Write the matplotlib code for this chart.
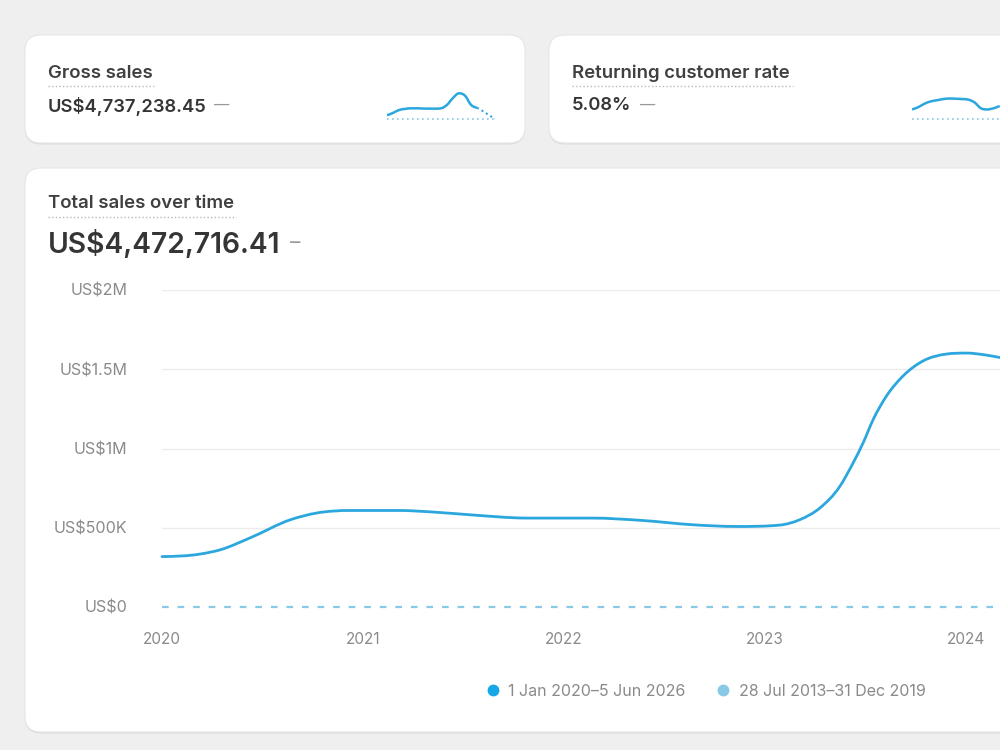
import numpy as np
import matplotlib.pyplot as plt
from matplotlib.patches import FancyBboxPatch, PathPatch
from matplotlib.path import Path
from matplotlib.lines import Line2D
from matplotlib.ticker import FuncFormatter

plt.rcParams["font.family"] = ["Inter", "DejaVu Sans"]

# total sales over time (fractional year, US$ millions)
years = [2020.0, 2020.19, 2020.29, 2020.44, 2020.64, 2020.77, 2020.94, 2021.18,
         2021.35, 2021.53, 2021.82, 2022.14, 2022.39, 2022.64, 2022.86, 2023.075,
         2023.174, 2023.274, 2023.373, 2023.439, 2023.489, 2023.539, 2023.605,
         2023.688, 2023.788, 2023.904, 2024.003, 2024.103, 2024.169]
sales = [0.318, 0.334, 0.361, 0.437, 0.551, 0.593, 0.609, 0.609,
         0.599, 0.582, 0.561, 0.561, 0.546, 0.519, 0.508, 0.517,
         0.551, 0.625, 0.761, 0.909, 1.036, 1.183, 1.331,
         1.458, 1.553, 1.596, 1.602, 1.589, 1.574]
# comparison period sums to zero on this range
compare_years = [2020.0, 2024.17]
compare_sales = [0.0, 0.0]

y_ticks = [0, 0.5, 1.0, 1.5, 2.0]
y_labels = ["US$0", "US$500K", "US$1M", "US$1.5M", "US$2M"]
x_ticks = [2020, 2021, 2022, 2023, 2024]
legend_labels = ["1 Jan 2020–5 Jun 2026", "28 Jul 2013–31 Dec 2019"]

# sparklines (arbitrary units, baseline = 0)
gross_spark = [3, 5, 7.5, 8.5, 9, 9, 8.8, 8.7, 8.7, 9, 12, 18, 22, 20, 12, 9.5]
gross_spark_tail = [9.5, 6.5, 3, 0]
gross_base = [0] * 19
rate_spark = [8, 10, 13, 15, 16, 17, 17.5, 17.3, 17, 16.5, 14, 9, 8, 9, 11]
rate_base = [0] * 15

blue = "#2ba7de"
light_blue = "#88c9e5"
dark = "#353535"
grey = "#8a8a8a"


def smooth_path(x, y):
    # smooth cubic through the points (Fritsch-Carlson limited tangents), as bezier segments
    x = np.asarray(x, float)
    y = np.asarray(y, float)
    h = np.diff(x)
    s = np.diff(y) / h
    m = np.zeros(len(x))
    for i in range(1, len(x) - 1):
        if s[i - 1] * s[i] <= 0:
            m[i] = 0.0
        else:
            p = (s[i - 1] * h[i] + s[i] * h[i - 1]) / (h[i - 1] + h[i])
            lim = 3 * min(abs(s[i - 1]), abs(s[i]))
            m[i] = np.sign(p) * min(abs(p), lim)
    m[0] = (3 * s[0] - m[1]) / 2 if len(x) > 2 else s[0]
    m[-1] = (3 * s[-1] - m[-2]) / 2 if len(x) > 2 else s[-1]
    verts = [(x[0], y[0])]
    codes = [Path.MOVETO]
    for i in range(len(x) - 1):
        d = h[i] / 3
        verts += [(x[i] + d, y[i] + m[i] * d), (x[i + 1] - d, y[i + 1] - m[i + 1] * d),
                  (x[i + 1], y[i + 1])]
        codes += [Path.CURVE4] * 3
    return Path(verts, codes)


fig = plt.figure(figsize=(10, 7.5), dpi=100, facecolor="#efefef")

# pixel-space background layer
bg = fig.add_axes([0, 0, 1, 1])
bg.set_xlim(0, 1000)
bg.set_ylim(750, 0)
bg.axis("off")


def card(x0, y0, x1, y1):
    shadow = FancyBboxPatch((x0, y0 + 1.5), x1 - x0, y1 - y0,
                            boxstyle="round,pad=0,rounding_size=16",
                            fc="#dcdcdc", ec="none")
    bg.add_patch(shadow)
    bg.add_patch(FancyBboxPatch((x0, y0), x1 - x0, y1 - y0,
                                boxstyle="round,pad=0,rounding_size=16",
                                fc="white", ec="#e6e6e6", lw=0.8))


card(25, 35, 525, 143)
card(549, 35, 1020, 143)
card(25, 168, 1020, 732)


def title(x, y, s, x_end):
    bg.text(x, y, s, fontsize=13.4, fontweight="semibold", color="#404040",
            va="center", ha="left")
    bg.plot([x, x_end], [y + 13, y + 13], color="#b8b8b8", lw=1,
            ls=(0, (1, 1.6)))


title(48, 73, "Gross sales", 154)
bg.text(48, 106, "US$4,737,238.45", fontsize=13.2, fontweight="semibold",
        color=dark, va="center")
bg.text(214, 105, "—", fontsize=11, color="#9a9a9a", va="center")

title(572, 73, "Returning customer rate", 793)
bg.text(572, 106, "5.08%", fontsize=13.2, fontweight="semibold",
        color=dark, va="center")
bg.text(640, 105, "—", fontsize=11, color="#9a9a9a", va="center")

title(48, 204, "Total sales over time", 236)
bg.text(48, 244, "US$4,472,716.41", fontsize=20.3, fontweight="semibold",
        color=dark, va="center")
bg.text(290, 243, "–", fontsize=15, color="#9a9a9a", va="center")

# sparklines
sp1 = fig.add_axes([387 / 1000, (750 - 121) / 750, 108 / 1000, 30 / 750])
sp1.add_patch(PathPatch(smooth_path(range(len(gross_spark)), gross_spark),
                        fc="none", ec=blue, lw=1.8))
sp1.plot(range(len(gross_spark) - 1, len(gross_spark) - 1 + len(gross_spark_tail)),
         gross_spark_tail, color=blue, lw=1.5, ls=(0, (1, 1.5)))
sp1.plot(range(len(gross_base)), gross_base, color=light_blue, lw=1.2,
         ls=(0, (1, 2)))
sp1.set_xlim(0, 18)
sp1.set_ylim(-2, 24)
sp1.axis("off")

sp2 = fig.add_axes([912 / 1000, (750 - 121) / 750, 94 / 1000, 30 / 750])
sp2.add_patch(PathPatch(smooth_path(range(len(rate_spark)), rate_spark),
                        fc="none", ec=blue, lw=1.8))
sp2.plot(range(len(rate_base)), rate_base, color=light_blue, lw=1.2,
         ls=(0, (1, 2)))
sp2.set_xlim(0, 15)
sp2.set_ylim(-2, 24)
sp2.axis("off")

# main chart
ax = fig.add_axes([0.162, (750 - 607) / 750, 0.838, (607 - 290) / 750])
ax.set_facecolor("none")
for v in y_ticks[1:]:
    ax.axhline(v, color="#ececec", lw=1, zorder=0)
ax.plot(compare_years, compare_sales, color=light_blue, lw=1.6,
        ls=(0, (3, 4)), clip_on=False, zorder=2)
ax.add_patch(PathPatch(smooth_path(years, sales), fc="none", ec=blue, lw=2.0,
                       clip_on=False, zorder=3, capstyle="round",
                       joinstyle="round"))

ax.set_xlim(2020, 2024.17)
ax.set_ylim(0, 2.0)
ax.set_yticks(y_ticks)
ax.set_yticklabels(y_labels)
ax.set_xticks(x_ticks)
ax.xaxis.set_major_formatter(FuncFormatter(lambda v, p: f"{int(v)}"))
ax.tick_params(axis="both", length=0, labelcolor=grey)
ax.tick_params(axis="y", pad=25, labelsize=11.6)
ax.tick_params(axis="x", pad=18, labelsize=11)
for s in ax.spines.values():
    s.set_visible(False)

handles = [
    Line2D([], [], marker="o", ls="", color="#17a6e6", markersize=7.5),
    Line2D([], [], marker="o", ls="", color=light_blue, markersize=7.5),
]
fig.legend(handles, legend_labels,
           loc="center", bbox_to_anchor=(0.705, (750 - 691) / 750),
           ncol=2, frameon=False, fontsize=11.5, labelcolor=grey,
           handletextpad=0.5, columnspacing=1.8, handlelength=1.0)

fig.savefig("out.png", dpi=100, facecolor=fig.get_facecolor())
